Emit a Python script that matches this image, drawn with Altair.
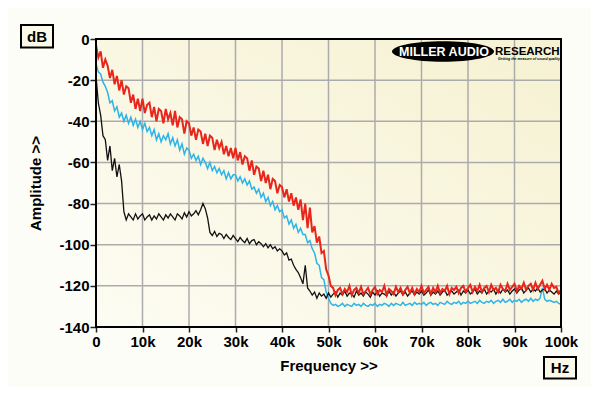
import altair as alt
import pandas as pd

# Spectrum traces at 0.5 kHz steps (0 .. 100 kHz), dB
red_db = [
    -3, -9, -6, -14, -10, -13, -19, -15, -22, -18, -25, -20, -27, -23, -24, -31, -27, -34, -29, -35,
    -29, -36, -32, -31, -38, -33, -40, -34, -35, -41, -34, -39, -36, -42, -35, -43, -38, -39, -46, -40,
    -41, -47, -43, -49, -44, -45, -51, -46, -52, -47, -48, -54, -49, -53, -50, -56, -52, -57, -53, -58,
    -53, -59, -55, -61, -57, -58, -64, -59, -66, -62, -63, -69, -64, -70, -66, -73, -68, -69, -75, -71,
    -72, -77, -73, -79, -75, -81, -77, -83, -78, -88, -80, -92, -82, -94, -91, -99, -96, -104, -103, -112,
    -115, -120, -121, -124.5, -122, -121, -124, -121.5, -123, -120, -124.5, -122, -121, -123.5, -120.5, -124, -122.5, -121, -124, -122,
    -120.5, -124, -122, -123, -120, -124.5, -121.5, -122.5, -124, -120.5, -123, -121, -124, -122, -120.5, -123.5, -121, -124, -121.5, -123,
    -120, -123.5, -122, -120.5, -124, -121, -123, -120, -123.5, -121.5, -122.5, -120, -124, -121, -122, -120.5, -123.5, -121, -120, -123,
    -121, -119.5, -123, -120.5, -122.5, -119.5, -123, -121, -120, -123, -119.5, -122, -121, -123, -119.5, -121.5, -122.5, -119, -122, -120.5,
    -119, -122.5, -120, -121.5, -118.5, -122, -120, -119, -122, -118.5, -121.5, -119.5, -117.5, -121.5, -119.5, -122, -119, -121, -120.5, -123.5,
    -122,
]

cyan_db = [
    -12, -16, -17, -21, -23, -26, -31, -30, -35, -33, -38, -36, -40, -37, -41, -38, -42, -39, -43, -40,
    -44, -41, -45, -43, -47, -44, -49, -46, -50, -47, -49, -46, -51, -48, -52, -49, -54, -51, -56, -53,
    -54, -58, -56, -59, -57, -61, -58, -60, -63, -60, -64, -62, -65, -63, -66, -64, -68, -65, -68, -66,
    -66, -69, -67, -70, -68, -71, -69, -73, -72, -75, -73, -77, -75, -79, -77, -81, -79, -83, -81, -84,
    -83, -87, -86, -90, -88, -92, -90, -94, -92, -95, -95, -99, -98, -102, -104, -109, -110, -116, -117, -123,
    -126, -128.5, -129.5, -129, -130, -129.5, -128.5, -130, -129, -129.5, -130, -128.5, -129.5, -129, -130, -128.5, -129.5, -130, -129, -129.5,
    -128.5, -130, -129, -129.5, -128.5, -129, -130, -128.5, -129.5, -128.5, -129, -129.5, -128, -129.5, -129, -128.5, -129.5, -128, -129, -128.5,
    -129, -128, -129.5, -128.5, -128, -129, -128.5, -129.5, -128, -128.5, -129, -127.5, -128.5, -129, -128, -128.5, -127.5, -129, -128, -128.5,
    -127.5, -128.5, -128, -127.5, -128.5, -127, -128, -128.5, -127.5, -128, -127, -128.5, -127.5, -127, -128, -126.5, -128, -127.5, -126.5, -128,
    -127, -127.5, -126.5, -128, -127, -126.5, -127.5, -126, -127.5, -126.5, -127, -126, -121, -126.5, -127.5, -127, -127.5, -128, -127.5, -128.5,
    -129,
]

black_db = [
    -18, -31, -37, -47, -49, -59, -52, -64, -58, -67, -61, -69, -84, -88, -85, -86.5, -88, -85, -87.5, -86,
    -85, -88, -86.5, -85.5, -88, -86, -87.5, -85, -86.5, -88, -85.5, -87, -85, -86.5, -88, -85, -86, -87.5, -84.5, -86.5,
    -84, -86, -85, -83.5, -85.5, -83, -80, -82.5, -87, -94, -95.5, -93.5, -96, -94.5, -95, -97, -95, -96.5, -97.5, -95.5,
    -97, -98.5, -96.5, -98, -99, -97, -99.5, -98, -97.5, -100, -98.5, -99.5, -101, -99.5, -101.5, -100, -102, -101, -103, -102,
    -103, -105, -104, -107.5, -107, -110, -112, -113.5, -116, -119, -110, -121, -122.5, -124.5, -123, -126, -123.5, -125, -124, -126,
    -123.5, -125.5, -124, -123, -125.5, -123.5, -124.5, -122.5, -125, -123.5, -124, -125.5, -122.5, -124.5, -123.5, -125, -123, -124, -125.5, -123,
    -124.5, -122.5, -125, -123.5, -124, -125, -122.5, -124.5, -123, -125, -123.5, -122.5, -124.5, -123, -125, -123.5, -122.5, -124.5, -123, -124,
    -122.5, -124.5, -123.5, -122, -124.5, -123, -124, -122.5, -124.5, -123, -122, -124.5, -123.5, -122.5, -124, -123, -122, -124.5, -122.5, -123.5,
    -122, -124, -123, -121.5, -124, -122.5, -123.5, -121.5, -124, -122.5, -123, -121.5, -124, -122, -123.5, -121.5, -123, -122, -124, -122.5,
    -121.5, -123.5, -122, -121, -123.5, -122, -121, -123, -121.5, -122.5, -121, -123, -122, -121.5, -123.5, -122, -123, -124, -122.5, -124,
    -123,
]

step_khz = 0.5
x_ticks = [0, 10, 20, 30, 40, 50, 60, 70, 80, 90, 100]
y_ticks = [-140, -120, -100, -80, -60, -40, -20, 0]


def frame(vals):
    return pd.DataFrame({"f": [i * step_khz for i in range(len(vals))], "db": vals})


W, H = 465, 288
FONT = "Liberation Sans"
GRID = "#ABABAB"

x_scale = alt.Scale(domain=[0, 100], nice=False, zero=False)
y_scale = alt.Scale(domain=[-140, 0], nice=False)

x_axis = alt.Axis(
    values=x_ticks,
    labelExpr="datum.value == 0 ? '0' : datum.value + 'k'",
    title="Frequency >>",
    titlePadding=9,
    tickSize=5,
    labelPadding=2,
    labelFlush=False,
    labelOverlap=False,
    grid=False,
)
y_axis = alt.Axis(
    values=y_ticks,
    labelExpr="'' + datum.value",
    title="Amplitude >>",
    titlePadding=15,
    tickSize=6,
    labelPadding=1,
    labelFlush=False,
    labelOverlap=False,
    grid=False,
)

X = alt.X("f:Q", scale=x_scale, axis=x_axis)
Y = alt.Y("db:Q", scale=y_scale, axis=y_axis)

one = pd.DataFrame({"k": [0]})

backdrop = alt.Chart(one).mark_rect(
    fill={
        "gradient": "linear",
        "x1": 1, "y1": 0, "x2": 0, "y2": 1,
        "stops": [
            {"offset": 0, "color": "#F6F1D1"},
            {"offset": 1, "color": "#FDFCF3"},
        ],
    },
).encode(x=alt.value(0), x2=alt.value(W), y=alt.value(0), y2=alt.value(H))

vgrid = alt.Chart(pd.DataFrame({"f": x_ticks})).mark_rule(
    color=GRID, strokeWidth=1.5
).encode(x=X)
hgrid = alt.Chart(pd.DataFrame({"db": y_ticks})).mark_rule(
    color=GRID, strokeWidth=1.5
).encode(y=Y)


def trace(vals, color, width):
    return alt.Chart(frame(vals)).mark_line(
        color=color, strokeWidth=width, clip=True
    ).encode(x=X, y=Y)


cyan = trace(cyan_db, "#2DB4E8", 1.5)
black = trace(black_db, "#111111", 1.3)
red = trace(red_db, "#E8261C", 2.0)

border = alt.Chart(one).mark_rect(
    filled=False, stroke="black", strokeWidth=2
).encode(x=alt.value(0), x2=alt.value(W), y=alt.value(0), y2=alt.value(H))

ellipse = alt.Chart(one).mark_point(
    shape="M-1,0A1,0.2,0,1,1,1,0A1,0.2,0,1,1,-1,0Z",
    filled=True, color="black", opacity=1, size=10400,
).encode(x=alt.value(347), y=alt.value(12.5))

logo1 = alt.Chart(pd.DataFrame({"t": ["MILLER AUDIO"]})).mark_text(
    font=FONT, fontWeight="bold", fontSize=12.5, color="white",
    align="center", baseline="middle",
).encode(x=alt.value(348), y=alt.value(12.5), text="t:N")

logo2 = alt.Chart(pd.DataFrame({"t": ["RESEARCH"]})).mark_text(
    font=FONT, fontWeight="bold", fontSize=11.5, color="black",
    align="left", baseline="alphabetic",
).encode(x=alt.value(399), y=alt.value(15.5), text="t:N")

logo3 = alt.Chart(pd.DataFrame({"t": ["Getting the measure of sound quality"]})).mark_text(
    font=FONT, fontWeight="bold", fontStyle="italic", fontSize=3.5, color="black",
    align="left", baseline="middle",
).encode(x=alt.value(402), y=alt.value(20), text="t:N")

db_box = alt.Chart(one).mark_rect(
    fill="#FBF9E8", stroke="black", strokeWidth=2
).encode(x=alt.value(-75), x2=alt.value(-43), y=alt.value(-14), y2=alt.value(8.5))
db_txt = alt.Chart(pd.DataFrame({"t": ["dB"]})).mark_text(
    font=FONT, fontWeight="bold", fontSize=15, color="black",
    align="center", baseline="middle",
).encode(x=alt.value(-59), y=alt.value(-2.5), text="t:N")

hz_box = alt.Chart(one).mark_rect(
    fill="#FBF9E8", stroke="black", strokeWidth=2
).encode(x=alt.value(448), x2=alt.value(480), y=alt.value(318), y2=alt.value(339.5))
hz_txt = alt.Chart(pd.DataFrame({"t": ["Hz"]})).mark_text(
    font=FONT, fontWeight="bold", fontSize=15, color="black",
    align="center", baseline="middle",
).encode(x=alt.value(464), y=alt.value(329), text="t:N")

chart = alt.layer(
    backdrop, vgrid, hgrid, cyan, black, red, border,
    ellipse, logo1, logo2, logo3, db_box, db_txt, hz_box, hz_txt,
).properties(
    width=W, height=H,
    autosize=alt.AutoSizeParams(type="none"),
    padding={"left": 88, "top": 31, "right": 30, "bottom": 60},
    background="#FDFDF8",
).configure_view(
    stroke=None,
).configure_axis(
    labelFont=FONT, labelFontWeight="bold", labelFontSize=15, labelColor="black",
    titleFont=FONT, titleFontWeight="bold", titleFontSize=15, titleColor="black",
    tickColor="#222222", tickWidth=1.5,
    domain=False,
)

chart.save("out.html", embed_options={"renderer": "svg", "actions": False})
